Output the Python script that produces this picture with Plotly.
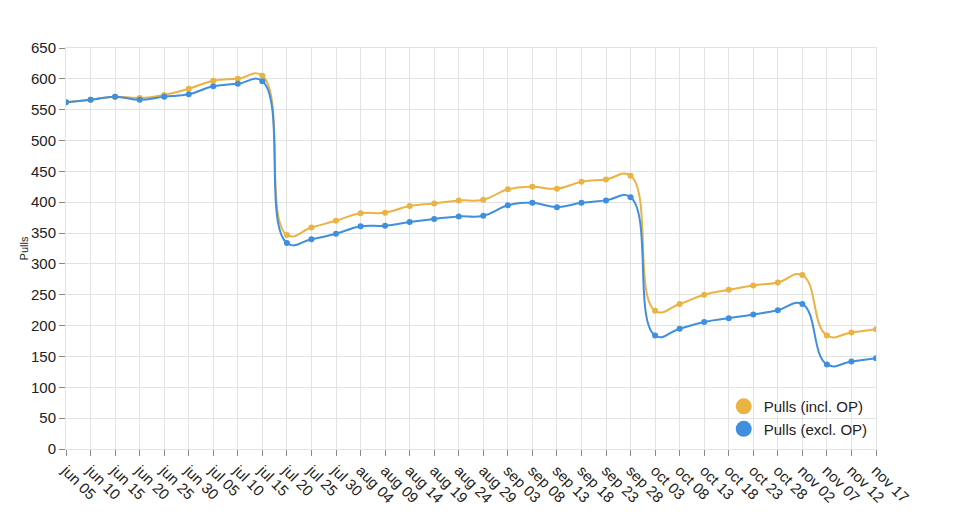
import plotly.graph_objects as go

# dates along the x axis, one point per date
dates = ["jun 05", "jun 10", "jun 15", "jun 20", "jun 25", "jun 30",
         "jul 05", "jul 10", "jul 15", "jul 20", "jul 25", "jul 30",
         "aug 04", "aug 09", "aug 14", "aug 19", "aug 24", "aug 29",
         "sep 03", "sep 08", "sep 13", "sep 18", "sep 23", "sep 28",
         "oct 03", "oct 08", "oct 13", "oct 18", "oct 23", "oct 28",
         "nov 02", "nov 07", "nov 12", "nov 17"]

# pulls including OP
pulls_incl = [562, 566, 571, 569, 574, 584,
              597, 600, 605, 347, 359, 370,
              382, 383, 394, 398, 403, 404,
              421, 425, 422, 433, 437, 443,
              224, 235, 250, 258, 265, 270,
              282, 184, 189, 194]

# pulls excluding OP
pulls_excl = [562, 566, 571, 566, 571, 575,
              588, 592, 596, 334, 340, 349,
              361, 362, 368, 373, 377, 378,
              395, 399, 392, 399, 403, 408,
              184, 195, 206, 212, 218, 225,
              235, 137, 142, 147]

orange = "#EBB244"
blue = "#3F8FDF"

fig = go.Figure()

for name, vals, col in [("Pulls (incl. OP)", pulls_incl, orange),
                        ("Pulls (excl. OP)", pulls_excl, blue)]:
    fig.add_trace(go.Scatter(
        x=dates, y=vals, name=name, mode="lines+markers",
        line=dict(color=col, width=2, shape="spline", smoothing=1.3),
        marker=dict(color=col, size=6),
        showlegend=False))

# legend entries drawn as plain circles
for name, col in [("Pulls (incl. OP)", orange), ("Pulls (excl. OP)", blue)]:
    fig.add_trace(go.Scatter(
        x=[None], y=[None], name=name, mode="markers",
        marker=dict(color=col, size=16)))

# the page body adds an 8px offset, so margins are trimmed to match
fig.update_layout(
    width=960, height=517,
    margin=dict(l=58, r=92, t=40, b=76),
    plot_bgcolor="white", paper_bgcolor="white",
    font=dict(family="Liberation Sans, Arial, sans-serif", size=15, color="#222"),
    legend=dict(x=0.812, y=0.147, xanchor="left", yanchor="top",
                bgcolor="rgba(0,0,0,0)", font=dict(size=15),
                tracegroupgap=0),
)

fig.update_xaxes(
    type="category", range=[0, len(dates) - 1],
    tickangle=45, showgrid=True, gridcolor="#e3e3e3", gridwidth=1,
    ticks="outside", ticklen=6, tickcolor="#888",
    showline=True, linecolor="#e3e3e3", mirror=True,
    tickfont=dict(size=15, color="#222"), zeroline=False)

fig.update_yaxes(
    range=[0, 650], dtick=50, showgrid=True, gridcolor="#e3e3e3", gridwidth=1,
    ticks="outside", ticklen=6, tickcolor="#888",
    showline=True, linecolor="#e3e3e3", mirror=True,
    tickfont=dict(size=15, color="#222"), zeroline=False,
    title=dict(text="Pulls", font=dict(size=11, color="#222"), standoff=0))

fig.write_html("out.html")
